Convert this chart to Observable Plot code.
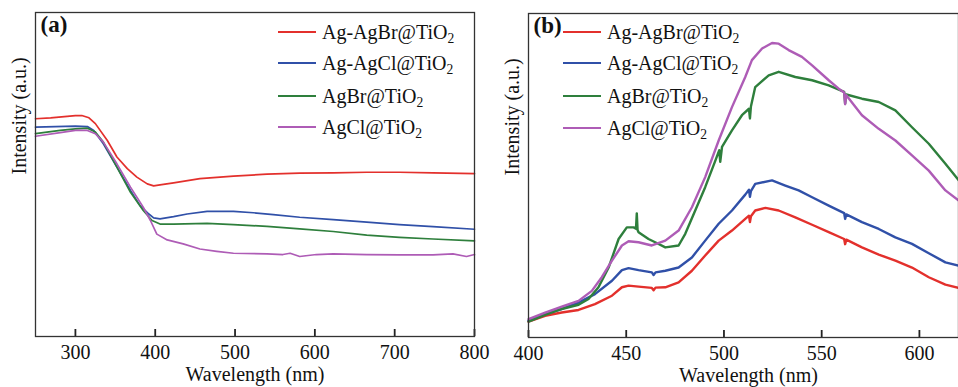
<!DOCTYPE html>
<html>
<head>
<meta charset="utf-8">
<script src="https://cdn.jsdelivr.net/npm/d3@7"></script>
<script src="https://cdn.jsdelivr.net/npm/@observablehq/plot@0.6"></script>
<style>
  html, body { margin: 0; padding: 0; background: #fff; }
  #wrap { position: relative; width: 958px; height: 387px; overflow: hidden; background: #fff; font-family: 'Liberation Serif', 'Tinos', 'Times New Roman', 'DejaVu Serif', serif; }
  .panel { position: absolute; top: 0; }
  .panel svg { max-width: none; overflow: visible; }
  .leg { position: absolute; display: flex; align-items: center; height: 24px; font-size: 20px; color: #111; white-space: nowrap; line-height: 24px; font-family: 'Liberation Serif', 'Tinos', 'Times New Roman', 'DejaVu Serif', serif; }
  .leg .sw { display: inline-block; width: 38px; height: 2px; margin-right: 6px; }
  .leg sub { font-size: 0.68em; vertical-align: -0.3em; line-height: 0; }
</style>
</head>
<body>
<div id="wrap">
  <div id="pa" class="panel" style="left:0px;width:478px"></div>
  <div id="pb" class="panel" style="left:478px;width:484px"></div>
</div>
<script>
// ---------- data ----------
const seriesNames = ["Ag-AgBr@TiO2", "Ag-AgCl@TiO2", "AgBr@TiO2", "AgCl@TiO2"];
const seriesColors = ["#e3302c", "#3050a8", "#2e7f3c", "#ae5cb6"];

const ticksA = [300, 400, 500, 600, 700, 800];
const ticksB = [400, 450, 500, 550, 600];

// Panel (a): [wavelength nm, intensity a.u.]
const a_AgAgBr = [[250,67.2],[269,67.5],[300,68.2],[308,68.2],[317,67.5],[325,65.7],[340,60.5],[352,55.4],[365,51.8],[377,49.2],[390,47.1],[398,46.5],[406,46.8],[423,47.4],[456,48.7],[498,49.5],[540,50.1],[581,50.4],[623,50.5],[665,50.7],[706,50.7],[748,50.5],[800,50.3]];
const a_AgAgCl = [[250,64.6],[300,64.9],[315,64.8],[323,63.6],[335,59.5],[352,52.3],[369,45.1],[381,40.4],[392,37.8],[398,36.6],[406,36.3],[423,37.0],[440,37.8],[465,38.6],[498,38.6],[523,38.2],[548,37.6],[581,36.8],[623,36.1],[665,35.3],[706,34.5],[748,33.9],[800,33.1]];
const a_AgBr = [[250,62.6],[281,63.6],[300,64.1],[315,64.3],[325,63.1],[335,60.0],[352,52.3],[369,44.5],[385,38.9],[396,35.8],[406,34.7],[423,34.7],[465,34.9],[498,34.5],[540,34.0],[581,33.2],[623,32.4],[665,31.3],[706,30.6],[748,30.1],[800,29.5]];
const a_AgCl = [[250,61.8],[281,62.9],[300,63.6],[315,63.6],[325,62.6],[335,60.0],[352,53.3],[369,46.1],[385,39.9],[394,35.8],[402,31.6],[415,29.8],[435,28.6],[456,27.0],[477,26.3],[498,25.7],[540,25.5],[560,25.3],[569,25.7],[581,24.7],[602,25.3],[623,25.5],[665,25.3],[706,25.2],[748,25.2],[773,25.5],[790,24.7],[800,25.3]];

// Panel (b): [wavelength nm, intensity a.u.]
const b_AgAgBr = [[400,4.9],[408.5,6.7],[417,7.7],[425.6,8.5],[434,10.3],[442.7,12.9],[447.8,15.5],[451.2,16.0],[456.3,15.7],[463.1,15.3],[464,14.6],[465,15.4],[470,15.5],[476.8,17.0],[483.6,20.6],[490.4,25.3],[497.3,29.9],[504.1,33.0],[510.9,36.6],[512.8,37.6],[513.3,35.6],[513.8,37.4],[516,39.2],[521.2,40.0],[528,39.2],[536.5,37.1],[545.1,34.8],[553.6,32.5],[561.5,30.4],[562,28.8],[562.6,30.2],[570.6,27.8],[579.2,25.6],[587.7,23.7],[596.2,21.6],[604.8,18.6],[613.3,16.3],[620.1,15.3]];
const b_AgAgCl = [[400,5.2],[408.5,7.2],[417,8.8],[425.6,10.8],[434,13.4],[442.7,17.5],[447.8,20.8],[451.2,21.4],[456.3,20.8],[463.1,20.1],[464,19.3],[465,20.1],[470,20.6],[476.8,21.6],[483.6,24.7],[490.4,29.9],[497.3,35.1],[504.1,39.2],[510.9,44.1],[512.8,45.6],[513.3,43.4],[513.8,45.2],[516,47.4],[524.6,48.5],[531.4,46.9],[538.2,45.4],[545.1,43.3],[553.6,40.7],[561.5,38.4],[562,36.6],[562.6,38.0],[570.6,35.6],[579.2,33.5],[587.7,30.9],[596.2,28.9],[604.8,26.0],[613.3,23.2],[620.1,22.2]];
const b_AgBr = [[400,4.9],[408.5,7.0],[417,8.8],[425.6,10.1],[430.7,11.9],[435.8,15.5],[441,21.6],[446.1,30.4],[450.3,34.0],[453.8,34.0],[455,33.6],[455.4,38.3],[455.8,33.2],[456.3,32.5],[461.4,30.4],[464.8,29.4],[470,27.8],[476.8,28.4],[480.2,32.0],[485.3,39.2],[490.4,46.4],[495.6,54.6],[497.6,57.8],[498.1,54.2],[499,58.8],[504.1,63.9],[509.2,68.6],[512.8,70.6],[513.3,67.6],[513.8,71.3],[516,77.3],[522.9,80.9],[528,82.0],[536.5,80.4],[545.1,79.4],[553.6,77.8],[561.5,75.8],[562,72.2],[562.6,75.0],[570.6,73.7],[579.2,72.7],[587.7,70.1],[596.2,64.9],[604.8,59.8],[613.3,53.6],[620.1,48.5]];
const b_AgCl = [[400,5.7],[408.5,7.7],[417,9.5],[425.6,11.3],[432.4,14.4],[437.5,18.6],[442.7,23.7],[447.8,28.4],[451.2,29.7],[456.3,29.4],[463.1,28.4],[470,29.9],[476.8,33.0],[483.6,40.2],[490.4,49.5],[497.3,60.8],[504.1,71.1],[510.9,80.4],[514.3,85.6],[519.5,89.2],[524.6,90.9],[528,90.7],[533.1,88.7],[539.9,86.6],[545.1,84.0],[553.6,79.4],[558.7,76.8],[561.5,75.6],[562,72.0],[562.6,74.8],[570.6,68.6],[579.2,64.4],[587.7,60.8],[596.2,56.2],[604.8,51.5],[613.3,45.4],[620.1,42.3]];

const yDomain = [0, 100];
const FONT = "'Liberation Serif', 'Tinos', 'Times New Roman', 'DejaVu Serif', serif";

// ---------- helpers ----------
function toRows(list) {
  const rows = [];
  list.forEach((pts, i) => pts.forEach(([x, y]) => rows.push({x, y, s: seriesNames[i]})));
  return rows;
}

function panel({rows, xDomain, ticks, width, marginLeft, marginRight, marginTop, marginBottom, tag, strokeWidth, titleDx}) {
  const innerH = 387 - marginTop - marginBottom;
  const svg = Plot.plot({
    width, height: 387,
    marginLeft, marginRight, marginTop, marginBottom,
    style: {fontFamily: FONT, fontSize: "20px", color: "#111", background: "transparent", overflow: "visible"},
    x: {domain: xDomain, axis: null},
    y: {domain: yDomain, axis: null},
    color: {domain: seriesNames, range: seriesColors},
    marks: [
      Plot.line(rows, {x: "x", y: "y", z: "s", stroke: "s", strokeWidth, strokeLinejoin: "round"}),
      Plot.tickX(ticks, {x: d => d, stroke: "#222", strokeWidth: 1.8, insetTop: innerH - 7}),
      Plot.axisX(ticks, {tickSize: 0, tickPadding: 8, label: null, fontSize: 20, tickFormat: d => String(d)}),
      Plot.frame({stroke: "#333", strokeWidth: 1.3}),
      Plot.text(["Wavelength (nm)"], {frameAnchor: "bottom", dy: 38, dx: titleDx, lineAnchor: "middle", fontSize: 20, fill: "#111"}),
      Plot.text(["Intensity (a.u.)"], {frameAnchor: "left", rotate: -90, dx: -16, lineAnchor: "middle", fontSize: 20, fill: "#111"}),
      Plot.text([tag], {frameAnchor: "top-left", textAnchor: "start", lineAnchor: "top", dx: 5, dy: 3, fontSize: 23, fontWeight: "bold", fill: "#111"})
    ]
  });
  svg.querySelectorAll("text").forEach(t => t.style.fontFamily = FONT);
  svg.style.fontFamily = FONT;
  return svg;
}

document.getElementById("pa").appendChild(panel({
  rows: toRows([a_AgAgBr, a_AgAgCl, a_AgBr, a_AgCl]),
  xDomain: [250, 800], ticks: ticksA, width: 478,
  marginLeft: 35, marginRight: 4, marginTop: 12, marginBottom: 51,
  tag: "(a)", strokeWidth: 1.7, titleDx: 0
}));

document.getElementById("pb").appendChild(panel({
  rows: toRows([b_AgAgBr, b_AgAgCl, b_AgBr, b_AgCl]),
  xDomain: [400, 620], ticks: ticksB, width: 484,
  marginLeft: 50, marginRight: 4, marginTop: 13, marginBottom: 50,
  tag: "(b)", strokeWidth: 2.4, titleDx: 5
}));

// ---------- legends (HTML) ----------
function legend(left, centers) {
  const wrap = document.getElementById("wrap");
  seriesNames.forEach((name, i) => {
    const row = document.createElement("div");
    row.className = "leg";
    row.style.left = left + "px";
    row.style.top = (centers[i] - 12) + "px";
    const sw = document.createElement("span");
    sw.className = "sw";
    sw.style.background = seriesColors[i];
    row.appendChild(sw);
    const t = document.createElement("span");
    t.innerHTML = name.replace(/O2$/, "O<sub>2</sub>");
    row.appendChild(t);
    wrap.appendChild(row);
  });
}
legend(278, [32, 63, 96, 127]);
legend(563, [32, 63, 96, 128]);
</script>
</body>
</html>
